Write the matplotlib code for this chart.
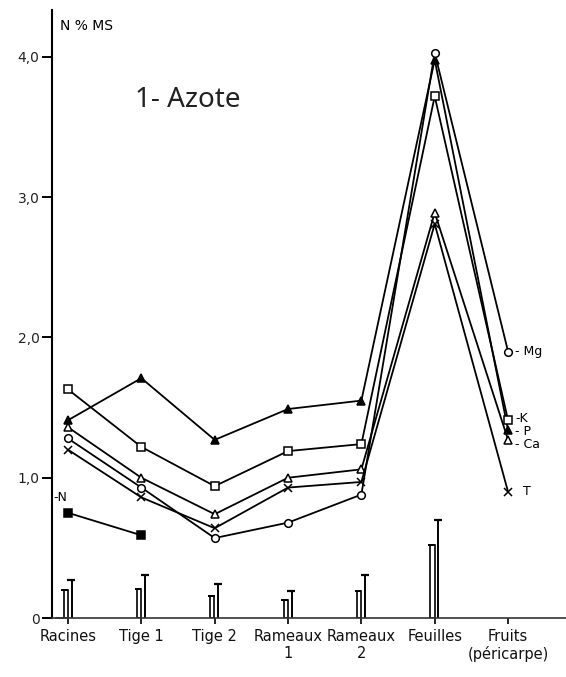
import matplotlib
matplotlib.use("Agg")
import matplotlib.pyplot as plt
import numpy as np

categories = ["Racines", "Tige 1", "Tige 2", "Rameaux\n1", "Rameaux\n2", "Feuilles", "Fruits\n(péricarpe)"]
P_vals = [1.41, 1.71, 1.27, 1.49, 1.55, 3.98, 1.34]
K_vals = [1.63, 1.22, 0.94, 1.19, 1.24, 3.72, 1.41]
Ca_vals = [1.36, 1.00, 0.74, 1.00, 1.06, 2.89, 1.27]
Mg_vals = [1.28, 0.93, 0.57, 0.68, 0.88, 4.03, 1.90]
T_vals = [1.20, 0.86, 0.64, 0.93, 0.97, 2.81, 0.90]
N_vals = [0.75, 0.59]
bar_low = [0.20, 0.21, 0.16, 0.13, 0.19, 0.52]
bar_high = [0.27, 0.31, 0.24, 0.19, 0.31, 0.70]
yticks = [0, 1, 2, 3, 4]
ytick_labels = ["0", "1,0", "2,0", "3,0", "4,0"]

fig = plt.figure(figsize=(5.66, 6.77), dpi=100)
ax = fig.add_axes([52/566, 59/677, 514/566, 608/677])
ax.set_xlim(-0.218, 6.79)
ax.set_ylim(0, 4.335)

x = np.arange(len(categories))
lw = 1.3
common = dict(color="black", lw=lw, ms=5.5, mew=1.1, zorder=3)
ax.plot(x, P_vals, marker="^", mfc="black", mec="black", **common)
ax.plot(x, K_vals, marker="s", mfc="white", mec="black", **common)
ax.plot(x, Ca_vals, marker="^", mfc="white", mec="black", **common)
ax.plot(x, Mg_vals, marker="o", mfc="white", mec="black", **common)
ax.plot(x, T_vals, marker="x", mfc="black", mec="black", **common)
ax.plot(x[:len(N_vals)], N_vals, marker="s", mfc="black", mec="black", **common)

# bars with error lines
xb = x[:len(bar_low)]
ax.bar(xb - 0.03, bar_low, width=0.055, fill=False, edgecolor="black", lw=1.2, zorder=2)
ax.hlines(bar_low, xb - 0.09, xb, color="black", lw=1.4)
ax.vlines(xb + 0.05, 0, bar_high, color="black", lw=1.4)
ax.hlines(bar_high, xb - 0.01, xb + 0.1, color="black", lw=1.6)

# spines
for s in ["top", "right"]:
    ax.spines[s].set_visible(False)
ax.spines["left"].set_linewidth(1.5)
ax.spines["bottom"].set_linewidth(1.2)
ax.spines["bottom"].set_color("#333333")

ax.set_yticks(yticks)
ax.set_yticklabels(ytick_labels, fontsize=10, color="#222222")
ax.tick_params(axis="y", direction="out", length=7, width=1.4, pad=2)
ax.set_xticks(x)
ax.set_xticklabels(categories, fontsize=10.5, color="#111111", linespacing=1.15)
ax.tick_params(axis="x", direction="out", length=4, width=1.2, pad=4)

# extend baseline to the left
ax.plot([-0.17, 0], [0, 0], color="#333333", lw=1.2, clip_on=False)

ax.text(0.015, 0.985, "N % MS", transform=ax.transAxes, fontsize=10, ha="left", va="top")
ax.text(0.92, 3.69, "1- Azote", fontsize=20, ha="left", va="center", family="Noto Sans", color="#222222")

lab = dict(fontsize=9, ha="left", va="center")
ax.text(6.1, Mg_vals[6], "- Mg", **lab)
ax.text(6.1, K_vals[6] + 0.01, "-K", **lab)
ax.text(6.1, P_vals[6] - 0.01, "- P", **lab)
ax.text(6.1, Ca_vals[6] - 0.03, "- Ca", **lab)
ax.text(6.2, T_vals[6], "T", **lab)
ax.text(-0.2, 0.86, "-N", fontsize=9, ha="left", va="center")

fig.savefig("out.png", dpi=100, facecolor="white")
